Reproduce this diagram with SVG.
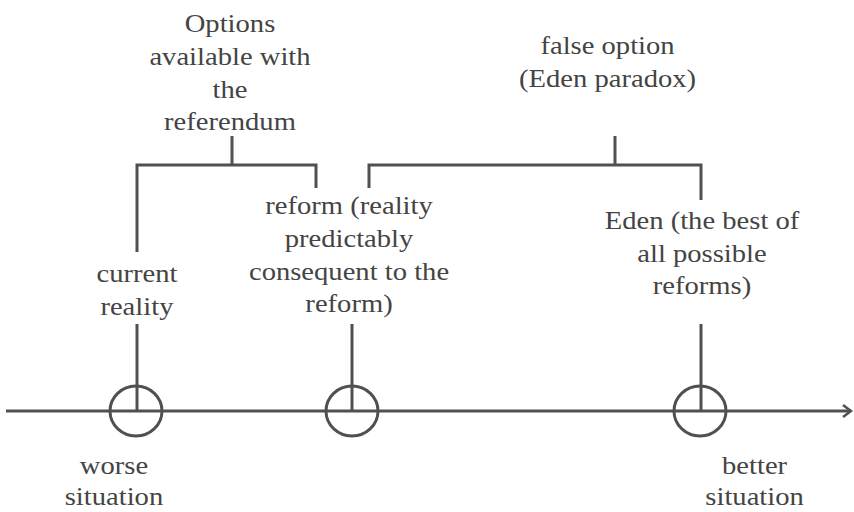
<svg xmlns="http://www.w3.org/2000/svg" width="854" height="512" viewBox="0 0 854 512">
<defs>
<marker id="arr" markerWidth="12" markerHeight="14" refX="10" refY="7" orient="auto" markerUnits="userSpaceOnUse">
<path d="M2,1 L10,7 L2,13" fill="none" stroke="#505050" stroke-width="2.5"/>
</marker>
</defs>
<rect width="854" height="512" fill="#fff"/>
<g id="connectors" stroke="#505050" stroke-width="3" fill="none">
<path d="M6,411 H851" marker-end="url(#arr)"/>
<path d="M232,136 V165 M137,252 V165 H316 V188"/>
<path d="M615,136 V165 M369,188 V165 H701 V200"/>
<path d="M137,324 V411"/>
<path d="M352,324 V411"/>
<path d="M701,324 V411"/>
</g>
<g id="circles" stroke="#505050" stroke-width="3" fill="none">
<ellipse cx="136" cy="411" rx="26" ry="25"/>
<ellipse cx="352" cy="411" rx="26" ry="25"/>
<ellipse cx="700" cy="411" rx="26" ry="25"/>
</g>
<g transform="scale(1.1,1)" fill="#444" text-anchor="middle" font-size="26" font-family="Liberation Serif">
<g id="options"><text x="209.1" y="32">Options</text><text x="209.1" y="65">available with</text><text x="209.1" y="98">the</text><text x="209.1" y="130">referendum</text></g>
<g id="false-option"><text x="552.3" y="54">false option</text><text x="552.3" y="87">(Eden paradox)</text></g>
<g id="current"><text x="124.5" y="282">current</text><text x="124.5" y="315">reality</text></g>
<g id="reform"><text x="317.3" y="214">reform (reality</text><text x="317.3" y="247">predictably</text><text x="317.3" y="280">consequent to the</text><text x="317.3" y="312">reform)</text></g>
<g id="eden"><text x="638.2" y="229">Eden (the best of</text><text x="638.2" y="262">all possible</text><text x="638.2" y="294">reforms)</text></g>
<g id="worse"><text x="103.6" y="474">worse</text><text x="103.6" y="505">situation</text></g>
<g id="better"><text x="686" y="474">better</text><text x="686" y="505">situation</text></g>
</g>
</svg>
